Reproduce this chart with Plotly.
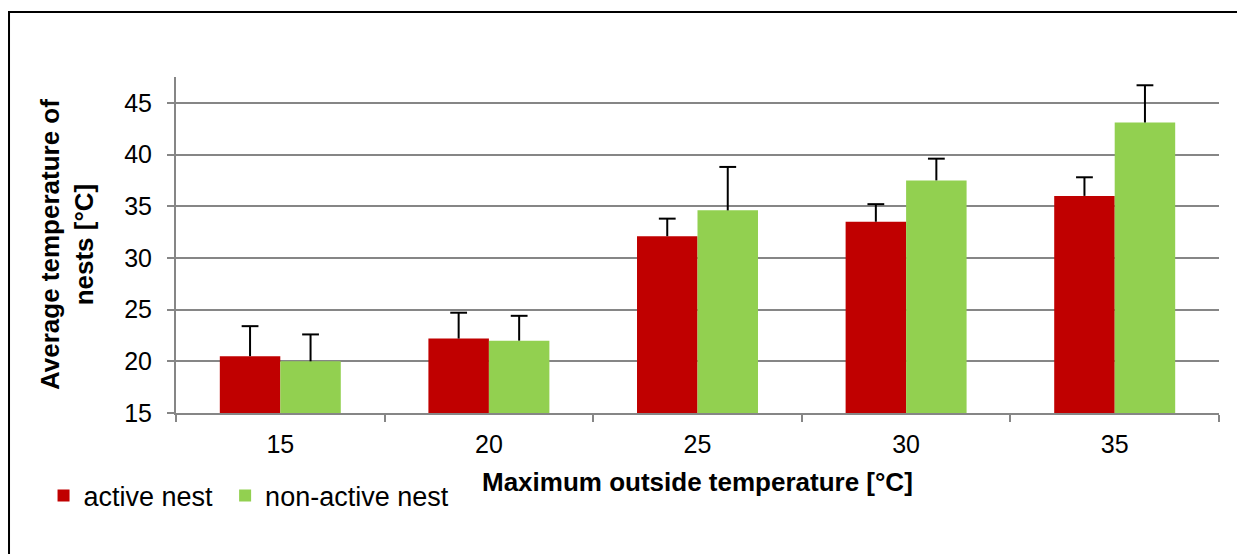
import plotly.graph_objects as go

# data
categories = ["15", "20", "25", "30", "35"]
active = [20.5, 22.2, 32.1, 33.5, 36.0]
active_err = [2.9, 2.5, 1.7, 1.7, 1.8]
non_active = [20.0, 22.0, 34.6, 37.5, 43.1]
non_active_err = [2.6, 2.4, 4.2, 2.1, 3.6]
y_ticks = [15, 20, 25, 30, 35, 40, 45]

FONT = "Liberation Sans, Arial, sans-serif"
GRID = "#868686"
BARGAP = 0.42

fig = go.Figure()

# trailing no-break space widens the first legend entry a little
for name, vals, color, grp in [
    ("active nest\u00a0", active, "#C00000", "a"),
    ("non-active nest", non_active, "#92D050", "b"),
]:
    fig.add_trace(go.Bar(
        x=categories, y=vals, name=name, offsetgroup=grp,
        marker=dict(color=color, line=dict(width=0)),
    ))

# upper error bars only (no cap on the bar top): drawn as grouped scatter
for vals, errs, grp in [(active, active_err, "a"), (non_active, non_active_err, "b")]:
    tops = [v + e for v, e in zip(vals, errs)]
    fig.add_trace(go.Scatter(
        x=categories, y=tops, mode="markers", offsetgroup=grp,
        showlegend=False, hoverinfo="skip",
        marker=dict(symbol="line-ew", size=12, color="black",
                    line=dict(width=2, color="black")),
        error_y=dict(type="data", symmetric=False, array=[0] * len(errs),
                     arrayminus=errs, color="black", thickness=2, width=0),
    ))

fig.update_layout(
    width=1245, height=554,
    margin=dict(l=168, r=34, t=69, b=149),
    paper_bgcolor="white", plot_bgcolor="white",
    barmode="group", bargap=BARGAP, bargroupgap=0,
    scattermode="group", scattergap=BARGAP,
    font=dict(family=FONT, size=25, color="black"),
    showlegend=True,
    legend=dict(orientation="h", x=-0.127, xanchor="left",
                y=-0.247, yanchor="middle",
                font=dict(size=27), itemclick=False,
                bgcolor="rgba(0,0,0,0)"),
)

fig.update_xaxes(
    type="category", showline=True, linecolor=GRID, linewidth=2,
    showgrid=False, ticks="outside", tickson="boundaries",
    ticklen=7, tickcolor=GRID, tickwidth=2,
    tickfont=dict(size=25), ticklabelstandoff=8,
)
fig.update_yaxes(
    range=[15, 47.5], tickvals=y_ticks,
    showline=True, linecolor=GRID, linewidth=2,
    showgrid=True, gridcolor=GRID, gridwidth=2,
    zeroline=False, ticks="outside", ticklen=7,
    tickcolor=GRID, tickwidth=2,
    tickfont=dict(size=25), ticklabelstandoff=10,
)

# axis titles
fig.add_annotation(
    text="<b>Average temperature of<br>nests [°C]</b>",
    xref="paper", yref="paper", x=-0.1045, y=0.5,
    xanchor="center", yanchor="middle", textangle=-90,
    showarrow=False, font=dict(size=26),
)
fig.add_annotation(
    text="<b>Maximum outside temperature [°C]</b>",
    xref="paper", yref="paper", x=0.5, y=-0.205,
    xanchor="center", yanchor="middle",
    showarrow=False, font=dict(size=26),
)

# outer frame of the chart (only left and top edges fall inside the picture)
fig.add_shape(type="rect", xref="paper", yref="paper",
              x0=-0.1601, y0=-0.6, x1=1.2, y1=1.1935,
              line=dict(color="black", width=2), layer="below")

fig.write_html("out.html")
